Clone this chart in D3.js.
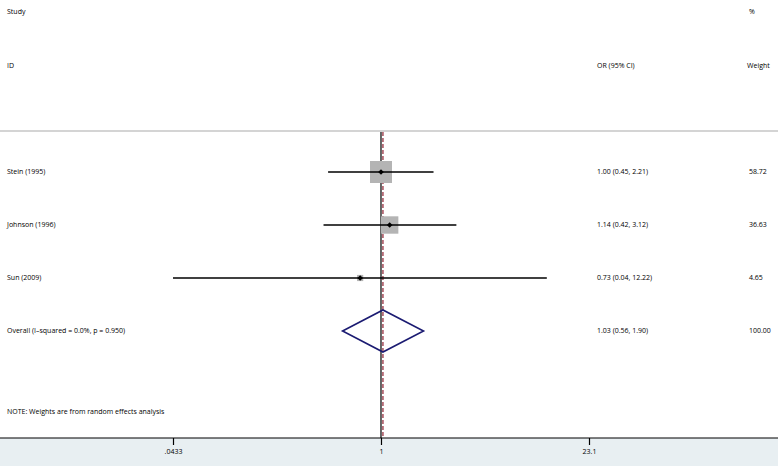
<!DOCTYPE html>
<html><head><meta charset="utf-8">
<script src="https://cdn.jsdelivr.net/npm/d3@7"></script>
<style>html,body{margin:0;padding:0;background:#fff;}svg{display:block;}text{font-family:"Open Sans","Noto Sans",sans-serif;font-size:7px;fill:#000;}</style>
</head><body><svg id="c" width="778" height="467"></svg>
<script>
const studies = ["Stein (1995)", "Johnson (1996)", "Sun (2009)"];
const orValues = [1.00, 1.14, 0.73];
const ciLower = [0.45, 0.42, 0.04];
const ciUpper = [2.21, 3.12, 12.22];
const weights = [58.72, 36.63, 4.65];
const overallLabel = "Overall  (I\u2013squared = 0.0%, p = 0.950)";
const overall = {or: 1.03, lo: 0.56, hi: 1.90, weight: 100.00};
const tickValues = [0.0433, 1, 23.1];
const tickLabels = [".0433", "1", "23.1"];
const noteText = "NOTE: Weights are from random effects analysis";

const svg = d3.select("#c");
const W = 778, H = 467;
const x = d3.scaleLog().domain([0.0433, 23.1]).range([173, 589]).clamp(true);
const rowNames = studies.concat(["Overall"]);
const y = d3.scalePoint().domain(rowNames).range([172, 331]);
const axisY = 438;

svg.append("rect").attr("x", 0).attr("y", axisY).attr("width", W).attr("height", 28).attr("fill", "#e8eff2");
svg.append("line").attr("x1", 0).attr("x2", W).attr("y1", 131).attr("y2", 131).attr("stroke", "#d4d4d4").attr("stroke-width", 2);

const tx = {study: 7, or: 597, wt: 749};
svg.append("text").attr("x", tx.study).attr("y", 12).attr("dy", "0.35em").text("Study");
svg.append("text").attr("x", tx.study).attr("y", 66).attr("dy", "0.35em").text("ID");
svg.append("text").attr("x", tx.or).attr("y", 66).attr("dy", "0.35em").text("OR (95% CI)");
svg.append("text").attr("x", 749).attr("y", 12).attr("dy", "0.35em").text("%");
svg.append("text").attr("x", 747).attr("y", 66).attr("dy", "0.35em").text("Weight");

svg.append("line").attr("x1", x(1)).attr("x2", x(1)).attr("y1", 132).attr("y2", axisY).attr("stroke", "#000").attr("stroke-width", 1.2);
svg.append("line").attr("x1", x(overall.or)).attr("x2", x(overall.or)).attr("y1", 132).attr("y2", axisY)
  .attr("stroke", "#8e1f30").attr("stroke-width", 1.2).attr("stroke-dasharray", "4,2");

const maxW = d3.max(weights);
const boxSize = w => 22 * Math.sqrt(w / maxW);

studies.forEach((s, i) => {
  const yy = y(s);
  const s2 = boxSize(weights[i]);
  svg.append("rect").attr("x", x(orValues[i]) - s2 / 2).attr("y", yy - s2 / 2).attr("width", s2).attr("height", s2).attr("fill", "#b4b4b4");
  svg.append("line").attr("x1", x(ciLower[i])).attr("x2", x(ciUpper[i])).attr("y1", yy).attr("y2", yy).attr("stroke", "#000").attr("stroke-width", 1.6);
  const cx = x(orValues[i]);
  svg.append("path").attr("d", `M${cx-2.8},${yy}L${cx},${yy-2.8}L${cx+2.8},${yy}L${cx},${yy+2.8}Z`).attr("fill", "#000");
  svg.append("text").attr("x", tx.study).attr("y", yy).attr("dy", "0.35em").text(s);
  svg.append("text").attr("x", tx.or).attr("y", yy).attr("dy", "0.35em")
    .text(`${orValues[i].toFixed(2)} (${ciLower[i].toFixed(2)}, ${ciUpper[i].toFixed(2)})`);
  svg.append("text").attr("x", tx.wt).attr("y", yy).attr("dy", "0.35em").text(weights[i].toFixed(2));
});

const oy = y("Overall");
svg.append("path").attr("d", `M${x(overall.lo)},${oy}L${x(overall.or)},${oy-21}L${x(overall.hi)},${oy}L${x(overall.or)},${oy+21}Z`)
  .attr("fill", "none").attr("stroke", "#1b1b72").attr("stroke-width", 1.6);
svg.append("text").attr("x", tx.study).attr("y", oy).attr("dy", "0.35em").text(overallLabel);
svg.append("text").attr("x", tx.or).attr("y", oy).attr("dy", "0.35em")
  .text(`${overall.or.toFixed(2)} (${overall.lo.toFixed(2)}, ${overall.hi.toFixed(2)})`);
svg.append("text").attr("x", tx.wt).attr("y", oy).attr("dy", "0.35em").text(overall.weight.toFixed(2));

svg.append("text").attr("x", tx.study).attr("y", 412).attr("dy", "0.35em").text(noteText);

const axis = d3.axisBottom(x).tickValues(tickValues).tickFormat((d, i) => tickLabels[i]).tickSize(7).tickSizeOuter(0);
const g = svg.append("g").attr("transform", `translate(0,${axisY})`).call(axis);
g.select(".domain").remove();
g.selectAll(".tick line").attr("stroke", "#000").attr("stroke-width", 1.2);
g.selectAll(".tick text").attr("y", 11).style("font-size", "7px").style("font-family", "'Open Sans','Noto Sans',sans-serif");
svg.append("line").attr("x1", 0).attr("x2", W).attr("y1", axisY).attr("y2", axisY).attr("stroke", "#000").attr("stroke-width", 1.2);
</script></body></html>
